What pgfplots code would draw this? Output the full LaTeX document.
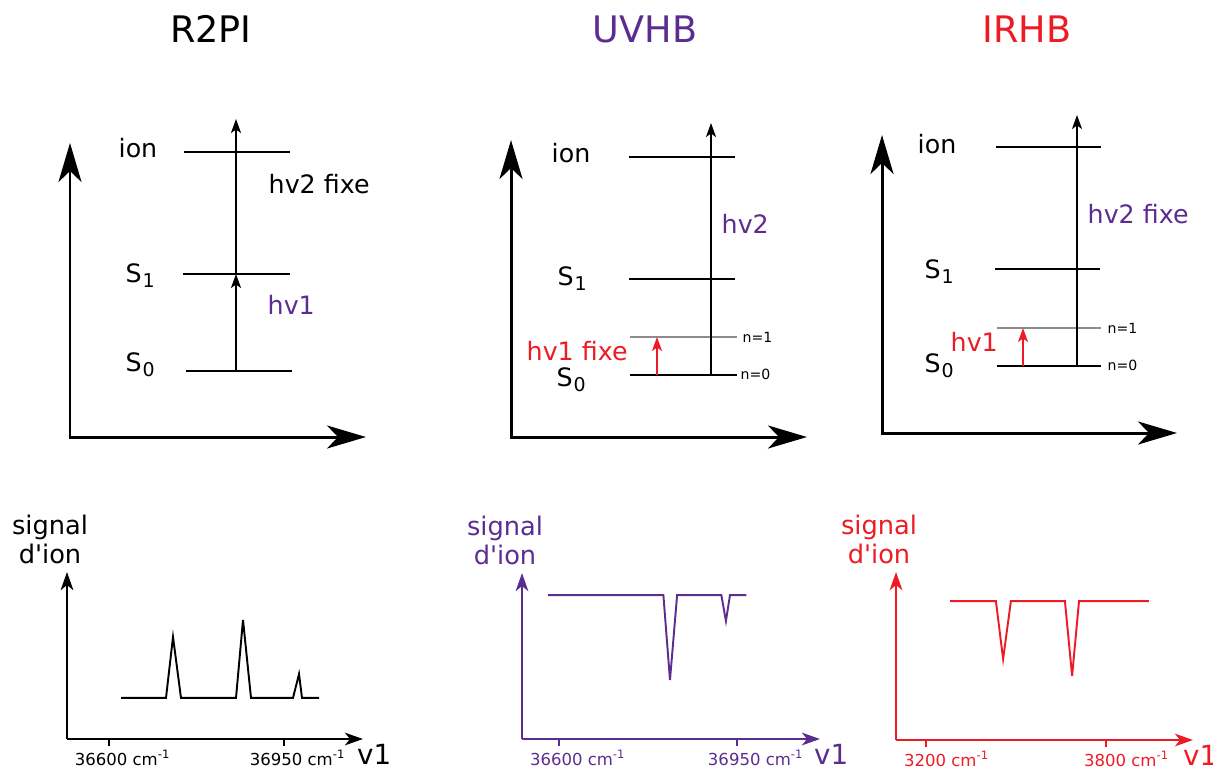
\documentclass[border=0pt]{standalone}
\usepackage{pgfplots}
\pgfplotsset{compat=1.18}
\usetikzlibrary{arrows.meta}
\usepackage{fontspec}
\setmainfont{DejaVu Sans}[Ligatures=TeXOff]
\definecolor{uvp}{RGB}{92,45,145}
\definecolor{irr}{RGB}{237,28,36}
\definecolor{lvlgray}{RGB}{140,140,140}
\newcommand\ttl{\fontsize{10.4}{12}\selectfont}
\newcommand\lab{\fontsize{7.2}{8.4}\selectfont}
\newcommand\sml{\fontsize{4}{5}\selectfont}
\newcommand\sig{\fontsize{7.3}{8.5}\selectfont}
\newcommand\tck{\fontsize{4.7}{5.5}\selectfont}
\newcommand\vlab{\fontsize{7.9}{9}\selectfont}
\newcommand\Ss[1]{S\kern0.03em\raisebox{-1.6pt}{\fontsize{5.4}{6}\selectfont #1}}
\pgfplotsset{
  lvl/.style={line width=0.6pt, black},
  bigax/.style={line width=0.85pt, black, {Stealth[length=3.9mm,width=2.3mm,inset=1.1mm]}-{Stealth[length=3.9mm,width=2.3mm,inset=1.1mm]}},
  exc/.style={line width=0.5pt, -{Stealth[length=1.4mm,width=1mm,inset=0.35mm]}},
  spec/.style={
    scale only axis, axis lines=left,
    axis line style={line width=0.8pt, color=#1, -{Stealth[length=1.8mm,width=1.25mm,inset=0.5mm]}},
    ymin=0, ymax=1, ytick=\empty, scaled x ticks=false,
    tick align=outside, major tick length=0.65mm,
    tick style={line width=0.6pt, color=#1},
    xticklabel style={font=\tck, text=#1, inner sep=0pt, anchor=north, yshift=-0.4mm},
    every axis y label/.style={at={(rel axis cs:0,1)}, anchor=south, xshift=-1.7mm, yshift=0.7mm, align=center, font=\sig, text=#1, inner sep=0pt},
    every axis x label/.style={at={(rel axis cs:1,0)}, anchor=base west, xshift=-0.65mm, yshift=-2.55mm, font=\vlab, text=#1, inner sep=0pt},
    ylabel={signal\\d'ion}, xlabel={v1},
  },
}
\begin{document}
\begin{tikzpicture}
% ---------- overlay axis in pixel coordinates (energy diagrams) ----------
\begin{axis}[at={(0,0)}, anchor=south west, scale only axis, width=12.13cm, height=7.67cm,
  xmin=0, xmax=1213, ymin=0, ymax=767, y dir=reverse, hide axis, clip=false]
% titles
\node[anchor=base, font=\ttl] at (axis cs:211,43) {R2PI};
\node[anchor=base, font=\ttl, text=uvp] at (axis cs:645,43) {UVHB};
\node[anchor=base, font=\ttl, text=irr] at (axis cs:1027,43) {IRHB};
% ===== R2PI =====
\addplot[bigax] coordinates {(70,143) (70,437) (366,437)};
\addplot[lvl] coordinates {(184,152) (290,152)};
\addplot[lvl] coordinates {(183,274) (290,274)};
\addplot[lvl] coordinates {(186,371) (292,371)};
\addplot[exc, black] coordinates {(236,371) (236,274)};
\addplot[exc, black] coordinates {(236,274) (236,119)};
\node[anchor=base, font=\lab] at (axis cs:138,157) {ion};
\node[anchor=base west, font=\lab, inner sep=0pt] at (axis cs:125,282) {\Ss{1}};
\node[anchor=base west, font=\lab, inner sep=0pt] at (axis cs:125,371) {\Ss{0}};
\node[anchor=base west, font=\lab, inner sep=0pt] at (axis cs:268,193) {hv2 fixe};
\node[anchor=base west, font=\lab, inner sep=0pt, text=uvp] at (axis cs:267,314) {hv1};
% ===== UVHB =====
\addplot[bigax] coordinates {(511,140) (511,437) (807,437)};
\addplot[lvl] coordinates {(629,157) (735,157)};
\addplot[lvl] coordinates {(629,279) (735,279)};
\addplot[line width=0.5pt, lvlgray] coordinates {(630,337) (737,337)};
\addplot[lvl] coordinates {(630,375) (737,375)};
\addplot[exc, black] coordinates {(711,375) (711,123)};
\addplot[exc, irr] coordinates {(657,375) (657,337)};
\node[anchor=base, font=\lab] at (axis cs:571,162) {ion};
\node[anchor=base west, font=\lab, inner sep=0pt] at (axis cs:557,285) {\Ss{1}};
\node[anchor=base west, font=\lab, inner sep=0pt] at (axis cs:556,386) {\Ss{0}};
\node[anchor=base west, font=\lab, inner sep=0pt, text=irr] at (axis cs:526,360) {hv1 fixe};
\node[anchor=base west, font=\lab, inner sep=0pt, text=uvp] at (axis cs:721,233) {hv2};
\node[anchor=base west, font=\sml, inner sep=0pt] at (axis cs:742,342) {n=1};
\node[anchor=base west, font=\sml, inner sep=0pt] at (axis cs:740,379) {n=0};
% ===== IRHB =====
\addplot[bigax] coordinates {(882,135) (882,433) (1177,433)};
\addplot[lvl] coordinates {(996,147) (1101,147)};
\addplot[lvl] coordinates {(995,269) (1100,269)};
\addplot[line width=0.5pt, lvlgray] coordinates {(997,328) (1101,328)};
\addplot[lvl] coordinates {(997,366) (1101,366)};
\addplot[exc, black] coordinates {(1077,366) (1077,115)};
\addplot[exc, irr] coordinates {(1023,366) (1023,328)};
\node[anchor=base, font=\lab] at (axis cs:937,153) {ion};
\node[anchor=base west, font=\lab, inner sep=0pt] at (axis cs:924,278) {\Ss{1}};
\node[anchor=base west, font=\lab, inner sep=0pt] at (axis cs:924,372) {\Ss{0}};
\node[anchor=base west, font=\lab, inner sep=0pt, text=irr] at (axis cs:950,351) {hv1};
\node[anchor=base west, font=\lab, inner sep=0pt, text=uvp] at (axis cs:1087,223) {hv2 fixe};
\node[anchor=base west, font=\sml, inner sep=0pt] at (axis cs:1107,333) {n=1};
\node[anchor=base west, font=\sml, inner sep=0pt] at (axis cs:1107,370) {n=0};
\end{axis}
% ---------- R2PI spectrum ----------
\begin{axis}[spec=black, at={(0.67cm,0.28cm)}, anchor=south west, width=2.96cm, height=1.67cm,
  xmin=36516, xmax=37108, xtick={36600,36950},
  xticklabels={36600 cm\textsuperscript{-1}, 36950 cm\textsuperscript{-1}},
  xticklabel style={xshift=1.4mm}]
\addplot[line width=0.55pt, black] coordinates {
 (36624,0.246) (36714,0.246) (36728,0.611) (36744,0.246) (36854,0.246)
 (36868,0.713) (36884,0.246) (36968,0.246) (36980,0.389) (36986,0.246) (37020,0.246)};
\end{axis}
% ---------- UVHB spectrum ----------
\begin{axis}[spec=uvp, at={(5.22cm,0.28cm)}, anchor=south west, width=2.98cm, height=1.66cm,
  xmin=36527, xmax=37113, xtick={36600,36950},
  xticklabels={36600 cm\textsuperscript{-1}, 36950 cm\textsuperscript{-1}},
  xticklabel style={xshift=1.9mm}]
\addplot[line width=0.55pt, uvp] coordinates {
 (36578,0.867) (36805,0.867) (36818,0.355) (36832,0.867) (36919,0.867)
 (36928,0.711) (36936,0.867) (36968,0.867)};
\end{axis}
% ---------- IRHB spectrum ----------
\begin{axis}[spec=irr, at={(8.96cm,0.27cm)}, anchor=south west, width=2.97cm, height=1.68cm,
  xmin=3100, xmax=4090, xtick={3200,3800},
  xticklabels={3200 cm\textsuperscript{-1}, 3800 cm\textsuperscript{-1}},
  xticklabel style={xshift=2.1mm},
  every axis x label/.append style={xshift=-0.4mm}]
\addplot[line width=0.55pt, irr] coordinates {
 (3280,0.827) (3433,0.827) (3457,0.482) (3483,0.827) (3663,0.827)
 (3687,0.381) (3710,0.827) (3943,0.827)};
\end{axis}
\pgfresetboundingbox
\useasboundingbox (0,0) rectangle (12.13cm,7.67cm);
\end{tikzpicture}
\end{document}
